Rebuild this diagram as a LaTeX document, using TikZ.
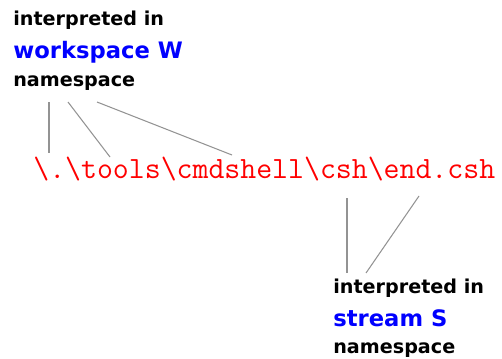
\documentclass[tikz,border=0pt]{standalone}
\usepackage{fontspec}
\usepackage{tikz}
\newfontfamily\lblfont{DejaVu Sans}
\definecolor{nsblue}{RGB}{0,0,255}
\definecolor{pathred}{RGB}{255,0,0}
\tikzset{
  small/.style={anchor=base west,inner sep=0pt,font=\lblfont\bfseries\fontsize{10.9}{13}\selectfont},
  big/.style={anchor=base west,inner sep=0pt,text=nsblue,font=\lblfont\bfseries\fontsize{12.9}{15}\selectfont},
  pathtext/.style={anchor=base west,inner sep=0pt,text=pathred,font=\ttfamily\fontsize{17.6}{20}\selectfont},
  link/.style={draw=gray!85,line width=0.6pt}
}
\begin{document}
\begin{tikzpicture}[x=0.02cm,y=-0.02cm]
\useasboundingbox (0,0) rectangle (502,358);
\node[small] (wsa) at (13,26) {interpreted in};
\node[big] (wsb) at (13,58) {workspace W};
\node[small] (wsc) at (13,86) {namespace};
\node[pathtext] (file) at (33,178) {\textbackslash.\textbackslash tools\textbackslash cmdshell\textbackslash csh\textbackslash end.csh};
\node[small] (sta) at (333,293) {interpreted in};
\node[big] (stb) at (333,326) {stream S};
\node[small] (stc) at (333,353) {namespace};
% ends of the lines
\coordinate (w1) at (49,102);
\coordinate (w2) at (68,102);
\coordinate (w3) at (97,102);
\coordinate (f1) at (49,153);
\coordinate (f2) at (110,157);
\coordinate (f3) at (232,155);
\coordinate (f4) at (347,198);
\coordinate (f5) at (419,196);
\coordinate (s1) at (347,273);
\coordinate (s2) at (366,273);
\draw[link] (w1) -- (f1);
\draw[link] (w2) -- (f2);
\draw[link] (w3) -- (f3);
\draw[link] (f4) -- (s1);
\draw[link] (f5) -- (s2);
\end{tikzpicture}
\end{document}
